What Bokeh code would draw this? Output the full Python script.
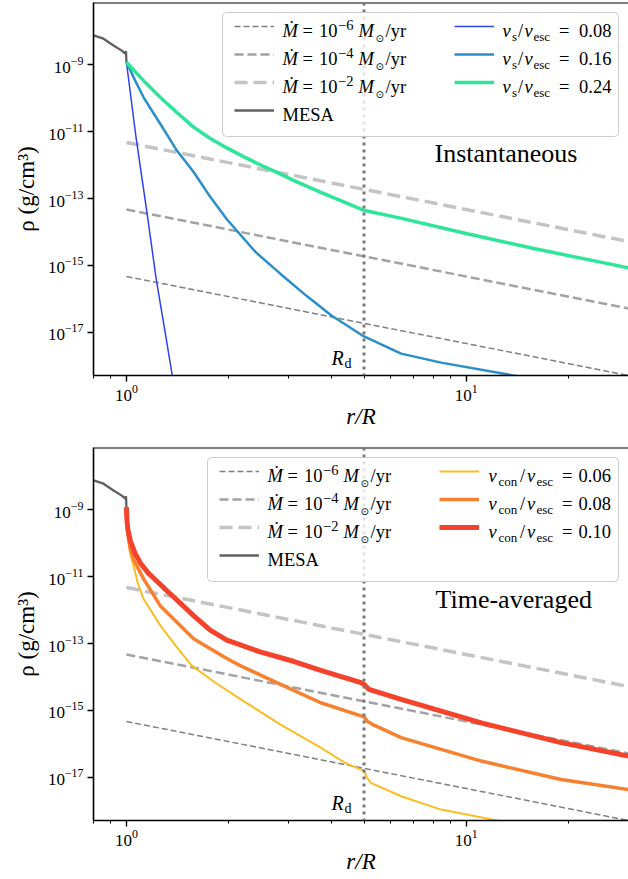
import math
from bokeh.plotting import figure
from bokeh.models import (Legend, LegendItem, Span, Label, FixedTicker, Range1d,
                          BoxAnnotation)
from bokeh.layouts import column
from bokeh.core.properties import value
from bokeh.embed import file_html
from bokeh.resources import INLINE

# ---------------- data ----------------
X_RANGE = (0.8, 30.0)
Y_RANGE = (5.2e-19, 7.1e-8)
R_D = 5.0

x_major_ticks = [1.0, 10.0]
x_minor_ticks = [0.8, 0.9, 2, 3, 4, 5, 6, 7, 8, 9, 20, 30]
y_major_ticks = [1e-17, 1e-15, 1e-13, 1e-11, 1e-9]

# steady winds rho = Mdot / (4 pi r^2 v)
r_wind = [1.0, 30.0]
rho_wind_m6 = [4.7e-16, 5.2e-19]
rho_wind_m4 = [4.7e-14, 5.2e-17]
rho_wind_m2 = [4.7e-12, 5.2e-15]

# MESA envelope
r_mesa = [0.78, 0.80, 0.856, 0.916, 0.969, 0.992, 0.997, 1.0]
rho_mesa = [7.9e-9, 7.4e-9, 5.9e-9, 3.7e-9, 2.6e-9, 2.1e-9, 2.5e-9, 1.17e-9]

# Instantaneous: v_s / v_esc
r_vs08 = [1.0, 1.068, 1.156, 1.223, 1.30, 1.364, 1.42]
rho_vs08 = [1.17e-9, 6.3e-12, 2.5e-14, 4.0e-16, 1.0e-17, 5.2e-19, 5.0e-20]

r_vs16 = [1.0, 1.03, 1.061, 1.123, 1.19, 1.257, 1.33, 1.407, 1.49, 1.576, 1.764, 1.974,
          2.4, 2.84, 3.4, 4.01, 5.0, 6.43, 8.43, 13.7, 18.9]
rho_vs16 = [1.17e-9, 6.3e-10, 3.3e-10, 1.05e-10, 4.1e-11, 1.7e-11, 6.8e-12, 2.7e-12,
            1.29e-12, 6.2e-13, 1.12e-13, 2.4e-14, 2.5e-15, 5.6e-16, 1.2e-16, 3.2e-17,
            7.6e-18, 2.34e-18, 1.26e-18, 5.25e-19, 3.02e-19]

r_vs24 = [1.0, 1.123, 1.257, 1.407, 1.576, 1.764, 1.974, 2.21, 2.474, 2.77, 3.10, 3.72,
          5.02, 6.4, 10.06, 15.8, 24.8, 30.0]
rho_vs24 = [1.17e-9, 3.3e-10, 1.05e-10, 3.7e-11, 1.35e-11, 6.2e-12, 3.24e-12, 1.78e-12,
            1.02e-12, 6.0e-13, 3.47e-13, 1.55e-13, 4.37e-14, 2.6e-14, 8.9e-15,
            3.2e-15, 1.26e-15, 8.5e-16]

# Time-averaged: v_con / v_esc
r_vc06 = [1.0, 1.003, 1.012, 1.025, 1.049, 1.08, 1.123, 1.257, 1.406, 1.557, 1.845, 2.17,
          2.84, 3.73, 4.39, 5.0, 5.1, 5.24, 6.43, 8.43, 12.3, 15.0]
rho_vc06 = [1.17e-9, 3.98e-10, 1.26e-10, 5.0e-11, 2.14e-11, 6.3e-12, 2.14e-12, 3.47e-13,
            7.76e-14, 2.19e-14, 6.3e-15, 2.14e-15, 3.80e-16, 7.76e-17, 2.75e-17, 1.58e-17,
            1.0e-17, 6.92e-18, 2.75e-18, 1.10e-18, 5.25e-19, 3.16e-19]

r_vc08 = [1.0, 1.003, 1.012, 1.026, 1.05, 1.123, 1.257, 1.576, 1.974, 2.16, 2.84, 3.73,
          5.0, 5.12, 5.31, 6.43, 11.07, 19.0, 30.0]
rho_vc08 = [1.17e-9, 4.47e-10, 1.58e-10, 6.8e-11, 3.2e-11, 8.51e-12, 1.35e-12, 1.38e-13,
            3.55e-14, 2.19e-14, 6.03e-15, 1.70e-15, 6.46e-16, 4.68e-16, 3.80e-16,
            1.55e-16, 3.09e-17, 8.71e-18, 4.37e-18]

r_vc10 = [1.0, 1.003, 1.01, 1.028, 1.06, 1.10, 1.16, 1.232, 1.3, 1.38, 1.576, 1.764,
          1.974, 2.474, 3.099, 3.73, 4.90, 5.0, 5.17, 6.43, 11.07, 19.0, 30.0]
rho_vc10 = [1.17e-9, 5.0e-10, 2.5e-10, 1.12e-10, 5.0e-11, 2.5e-11, 1.26e-11, 7.1e-12,
            4.2e-12, 2.4e-12, 6.8e-13, 2.5e-13, 1.26e-13, 5.6e-14, 2.95e-14, 1.58e-14,
            6.76e-15, 6.03e-15, 4.27e-15, 2.14e-15, 4.27e-16, 1.10e-16, 4.37e-17]

wind_labels = ["\u22126", "\u22124", "\u22122"]
vs_values = ["0.08", "0.16", "0.24"]
vcon_values = ["0.06", "0.08", "0.10"]

# ---------------- styling ----------------
SERIF = "Liberation Serif"
FRAME_W, FRAME_H = 535, 373
LX0, LX1 = math.log10(X_RANGE[0]), math.log10(X_RANGE[1])
LY0, LY1 = math.log10(Y_RANGE[0]), math.log10(Y_RANGE[1])
BASELINE_FIX = 0.40   # label anchor correction, in em


def at(fx, fy):
    """frame-relative pixel position -> data coordinates"""
    x = 10 ** (LX0 + fx / FRAME_W * (LX1 - LX0))
    y = 10 ** (LY1 - fy / FRAME_H * (LY1 - LY0))
    return x, y


def put(p, fx, fy, txt, size, style="normal", font=SERIF, align="left"):
    x, y = at(fx, fy - BASELINE_FIX * size)
    p.add_layout(Label(x=x, y=y, text=txt, text_font=font,
                       text_font_size=f"{size}px", text_font_style=style,
                       text_baseline="alphabetic", text_align=align,
                       text_color="black", level="overlay"))


def rich(p, x0, base, pieces):
    for piece in pieces:
        dx, txt, size, style, dy = piece[:5]
        font = piece[5] if len(piece) > 5 else SERIF
        put(p, x0 + dx, base + dy, txt, size, style, font)


def mdot_pieces(exp):
    return [(0, "\u1E40", 18.5, "italic", 0), (20, "=", 18.5, "normal", 0),
            (36.5, "10", 18.5, "normal", 0), (55.5, exp, 14.5, "normal", -7.5),
            (76, "M", 18.5, "italic", 0), (93, "\u2299", 10, "normal", 4, "DejaVu Sans"),
            (103, "/yr", 18.5, "normal", 0)]


def make_panel(border_bottom, axis_font):
    p = figure(frame_width=FRAME_W, frame_height=FRAME_H,
               x_axis_type="log", y_axis_type="log",
               x_range=Range1d(*X_RANGE), y_range=Range1d(*Y_RANGE),
               output_backend="svg", toolbar_location=None,
               min_border_left=93, min_border_right=0, min_border_top=2,
               min_border_bottom=border_bottom,
               background_fill_color="white", border_fill_color="white")
    p.outline_line_color = None
    p.grid.visible = False
    xax = p.xaxis[0]
    yax = p.yaxis[0]
    xax.ticker = FixedTicker(ticks=x_major_ticks, minor_ticks=x_minor_ticks)
    yax.ticker = FixedTicker(ticks=y_major_ticks, minor_ticks=[])
    for ax in (xax, yax):
        ax.axis_line_width = 1.6
        ax.axis_line_color = "black"
        ax.major_tick_out = 6
        ax.major_tick_in = 0
        ax.minor_tick_out = 3
        ax.minor_tick_in = 0
        ax.major_tick_line_width = 1.4
        ax.minor_tick_line_width = 1
        ax.major_label_text_font = axis_font
        ax.major_label_text_font_size = "17px"
        ax.major_label_text_color = "black"
        ax.axis_label_text_font = axis_font
        ax.axis_label_text_font_size = "23px"
        ax.axis_label_text_color = "black"
    xax.axis_label = "r/R"
    xax.axis_label_text_font_style = "italic"
    xax.major_label_standoff = 3
    xax.axis_label_standoff = 0
    yax.axis_label = "\u03C1 (g/cm\u00B3)"
    yax.axis_label_text_font_style = "normal"
    yax.major_label_standoff = 4
    yax.axis_label_standoff = 6
    # top spine
    p.add_layout(Span(location=Y_RANGE[1], dimension="width", line_color="black",
                      line_width=2))
    # R_d marker
    p.add_layout(Span(location=R_D, dimension="height", line_color="#7a7a7a",
                      line_width=3, line_dash="3 4"))

    w6 = p.line(r_wind, rho_wind_m6, line_color="#808080", line_width=1.5, line_dash="6 3")
    w4 = p.line(r_wind, rho_wind_m4, line_color="#a3a3a3", line_width=2.5, line_dash="9 4")
    w2 = p.line(r_wind, rho_wind_m2, line_color="#c4c4c4", line_width=3.5, line_dash="13 6")
    ms = p.line(r_mesa, rho_mesa, line_color="#606060", line_width=2.3)
    return p, [w6, w4, w2, ms]


def add_legends(p, base_items, extra, glyph_left_a, glyph_left_b, pieces_b):
    # legend frame (semi-transparent white box) drawn below the legend texts
    x_left, y_top = at(glyph_left_a - 6, 10)
    x_right, y_bottom = at(FRAME_W - 10, 10 + 6 + 4 * 28 + 6)
    p.add_layout(BoxAnnotation(left=x_left, right=x_right, top=y_top, bottom=y_bottom,
                               fill_color="white", fill_alpha=0.8,
                               line_color="#cccccc", line_width=1, line_alpha=1.0,
                               border_radius=4))
    lw_a = FRAME_W - 10 - 6 - 40 - 14 - glyph_left_a
    leg_a = Legend(items=[LegendItem(label=value(""), renderers=[r]) for r in base_items],
                   location="top_right", margin=10, padding=6, spacing=0,
                   glyph_width=40, glyph_height=28, label_height=28,
                   label_width=lw_a, label_standoff=14,
                   background_fill_alpha=0, border_line_color=None,
                   label_text_font_size="17px")
    lw_b = FRAME_W - 10 - 6 - 40 - 14 - glyph_left_b
    leg_b = Legend(items=[LegendItem(label=value(""), renderers=[r]) for r in extra],
                   location="top_right", margin=10, padding=6, spacing=0,
                   glyph_width=40, glyph_height=28, label_height=28,
                   label_width=lw_b, label_standoff=14,
                   background_fill_alpha=0, border_line_color=None,
                   label_text_font_size="17px")
    p.add_layout(leg_a)
    p.add_layout(leg_b)
    xa = glyph_left_a + 54
    xb = glyph_left_b + 54
    bases = [35.5, 63.5, 91.5, 119.5]
    for i, e in enumerate(wind_labels):
        rich(p, xa, bases[i], mdot_pieces(e))
    rich(p, xa, bases[3], [(0, "MESA", 18.5, "normal", 0)])
    for i, pcs in enumerate(pieces_b):
        rich(p, xb, bases[i], pcs)
    rich(p, 238, 363, [(0, "R", 20, "italic", 0), (13, "d", 14, "normal", 4)])


# ---------------- top panel ----------------
p1, base1 = make_panel(70, SERIF)
v08 = p1.line(r_vs08, rho_vs08, line_color="#2d43ee", line_width=1.5)
v16 = p1.line(r_vs16, rho_vs16, line_color="#2a8fc8", line_width=2.5)
v24 = p1.line(r_vs24, rho_vs24, line_color="#2ee69a", line_width=3.5)
vs_pieces = [[(0, "v", 18.5, "italic", 0), (9.5, "s", 13, "normal", 4),
              (15.5, "/", 18.5, "normal", 0), (22, "v", 18.5, "italic", 0),
              (31, "esc", 13, "normal", 4), (56.5, "=", 18.5, "normal", 0),
              (76.5, val, 18.5, "normal", 0)] for val in vs_values]
add_legends(p1, base1, [v08, v16, v24], 135, 355, vs_pieces)
put(p1, 341, 161, "Instantaneous", 26)

# ---------------- bottom panel ----------------
p2, base2 = make_panel(58, SERIF)
c06 = p2.line(r_vc06, rho_vc06, line_color="#fbbd24", line_width=2)
c08 = p2.line(r_vc08, rho_vc08, line_color="#f7812f", line_width=3.5)
c10 = p2.line(r_vc10, rho_vc10, line_color="#f4422b", line_width=5)
vc_pieces = [[(1, "v", 18.5, "italic", 0), (11, "con", 13, "normal", 4),
              (32.5, "/", 18.5, "normal", 0), (39.5, "v", 18.5, "italic", 0),
              (49, "esc", 13, "normal", 4), (74.5, "=", 18.5, "normal", 0),
              (91, val, 18.5, "normal", 0)] for val in vcon_values]
add_legends(p2, base2, [c06, c08, c10], 120, 340, vc_pieces)
put(p2, 342, 162.5, "Time-averaged", 26)

layout = column(p1, p2, spacing=0)
open("out.html", "w").write(file_html(layout, INLINE))
